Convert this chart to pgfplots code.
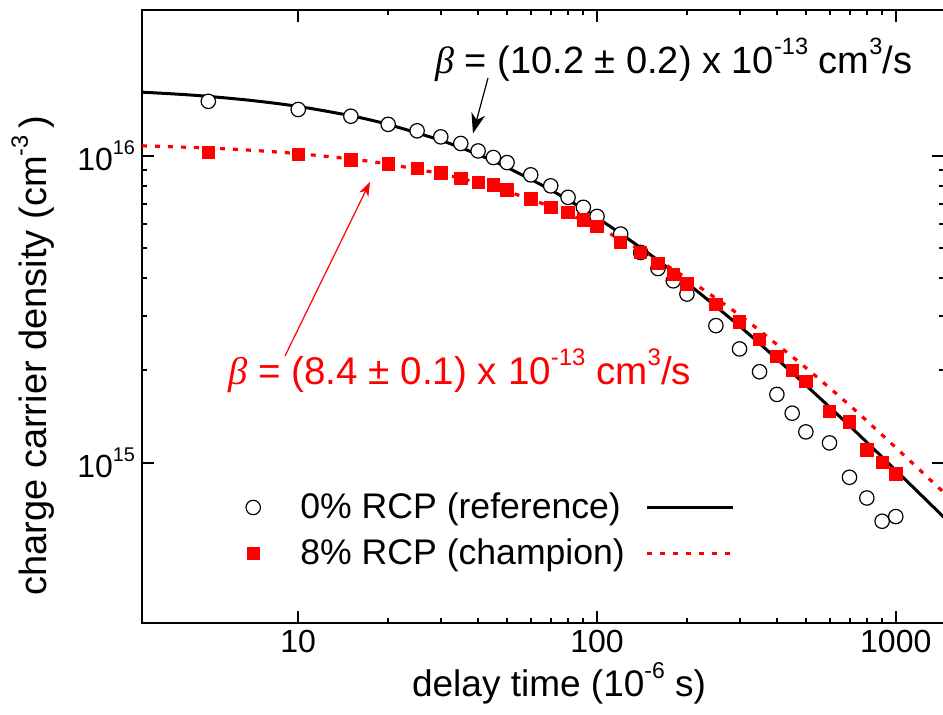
\documentclass[border=0pt]{standalone}
\usepackage{fontspec}
\setmainfont{Liberation Sans}
\newfontfamily\betafont{Liberation Serif}
\usepackage{graphicx}
\usepackage{pgfplots}
\pgfplotsset{compat=1.18}
\usetikzlibrary{arrows.meta}
\newcommand\su[1]{\raisebox{0.5em}{\scalebox{0.62}{#1}}}
\begin{document}
\begin{tikzpicture}
\useasboundingbox (-71pt,-46pt) rectangle (400.5pt,311.5pt);
\begin{axis}[
  at={(0pt,0pt)}, anchor=south west,
  scale only axis, width=401pt, height=306.5pt,
  xmode=log, ymode=log,
  xmin=3, xmax=1450, ymin=3e14, ymax=3e16,
  xtick={10,100,1000}, xticklabels={10,100,1000},
  ytick={1e15,1e16}, yticklabels={10\su{15},10\su{16}},
  tick label style={font=\fontsize{16}{16}\selectfont},
  axis line style={line width=1pt},
  tick style={black, line width=1pt},
  major tick length=6pt, minor tick length=2.5pt,
  xlabel={delay time (10\su{-6}\ s)},
  ylabel={charge carrier density (cm\su{-3}\,)},
  xlabel style={font=\fontsize{18.5}{18.5}\selectfont, at={(axis description cs:0.52,-0.1207)}, anchor=base},
  ylabel style={font=\fontsize{19}{19}\selectfont, at={(axis description cs:-0.1185,0.4356)}, anchor=base},
  legend style={draw=none, fill=none, inner sep=0pt, outer sep=0pt,
    at={(axis description cs:0.1297,0.1510)}, anchor=west,
    font=\fontsize{17.8}{17.8}\selectfont, row sep=8.5pt,
    nodes={inner sep=0pt},
    /tikz/every odd column/.style={column sep=20pt}},
  legend cell align=left,
]
\addplot[black, line width=1.5pt, smooth, forget plot] coordinates {
(3,1.6175e16)(4,1.592e16)(5,1.567e16)(7,1.519e16)(10,1.453e16)(15,1.355e16)(20,1.269e16)(30,1.126e16)(40,1.012e16)(50,9.19e15)(70,7.76e15)(100,6.30e15)(150,4.79e15)(200,3.86e15)(300,2.79e15)(400,2.18e15)(500,1.79e15)(700,1.32e15)(1000,9.44e14)(1450,6.63e14)};
\addplot[red, line width=1.6pt, dash pattern=on 2.5pt off 4pt, smooth, forget plot] coordinates {
(3,1.081e16)(5,1.063e16)(7,1.045e16)(10,1.019e16)(15,9.79e15)(20,9.42e15)(30,8.76e15)(40,8.19e15)(50,7.68e15)(70,6.84e15)(100,5.87e15)(150,4.75e15)(200,3.99e15)(300,3.03e15)(400,2.43e15)(500,2.04e15)(700,1.54e15)(1000,1.12e15)(1450,7.98e14)};
\addplot[only marks, mark=*, mark size=3.6pt, mark options={fill=white, draw=black, line width=0.6pt},
  legend image code/.code={
    \draw[only marks, mark=*, mark size=3.6pt, mark options={fill=white, draw=black, line width=0.6pt}] plot coordinates {(10pt,0pt)};
    \draw[overlay, black, line width=1.5pt] (206.7pt,0pt) -- (249.7pt,0pt);
  }] coordinates {
(5,1.51e16)(10,1.42e16)(15,1.35e16)(20,1.27e16)(25,1.21e16)(30,1.156e16)(35,1.10e16)(40,1.04e16)(45,9.9e15)(50,9.53e15)(60,8.69e15)(70,8.0e15)(80,7.34e15)(90,6.81e15)(100,6.36e15)(120,5.57e15)(140,4.85e15)(160,4.30e15)(180,3.92e15)(200,3.55e15)(250,2.80e15)(300,2.35e15)(350,1.98e15)(400,1.67e15)(450,1.45e15)(500,1.26e15)(600,1.16e15)(700,8.96e14)(800,7.67e14)(900,6.44e14)(1000,6.67e14)};
\addlegendentry{0\% RCP (reference)}
\addplot[only marks, mark=square*, mark size=3.1pt, mark options={fill=red, draw=red},
  legend image code/.code={
    \draw[only marks, mark=square*, mark size=3.1pt, mark options={fill=red, draw=red}] plot coordinates {(10pt,0pt)};
    \draw[overlay, red, line width=1.6pt, dash pattern=on 2.5pt off 4pt] (206.7pt,0pt) -- (249.7pt,0pt);
  }] coordinates {
(5,1.03e16)(10,1.015e16)(15,9.73e15)(20,9.44e15)(25,9.12e15)(30,8.81e15)(35,8.47e15)(40,8.2e15)(45,8.06e15)(50,7.76e15)(60,7.25e15)(70,6.81e15)(80,6.55e15)(90,6.2e15)(100,5.89e15)(120,5.24e15)(140,4.85e15)(160,4.47e15)(180,4.12e15)(200,3.83e15)(250,3.29e15)(300,2.88e15)(350,2.52e15)(400,2.22e15)(450,2.0e15)(500,1.84e15)(600,1.47e15)(700,1.36e15)(800,1.10e15)(900,1.0e15)(1000,9.2e14)};
\addlegendentry{8\% RCP (champion)}
\end{axis}
\node[anchor=base west, inner sep=0pt, font=\fontsize{19}{19}\selectfont] at (146.5pt,274.5pt)
  {{\betafont\itshape β} = (10.2 ± 0.2) x 10\su{-13}\ cm\su{3}/s};
\node[anchor=base west, inner sep=0pt, red, font=\fontsize{19.3}{19.3}\selectfont] at (43pt,119pt)
  {{\betafont\itshape β} = (8.4 ± 0.1) x 10\su{-13}\ cm\su{3}/s};
\draw[line width=0.6pt, -{Stealth[length=10pt,width=7pt,inset=3pt]}] (173pt,272.5pt) -- (165.5pt,244.8pt);
\draw[red, line width=0.6pt, -{Stealth[length=7pt,width=5pt,inset=2pt]}] (71.5pt,133.5pt) -- (114pt,220.5pt);
\end{tikzpicture}
\end{document}
